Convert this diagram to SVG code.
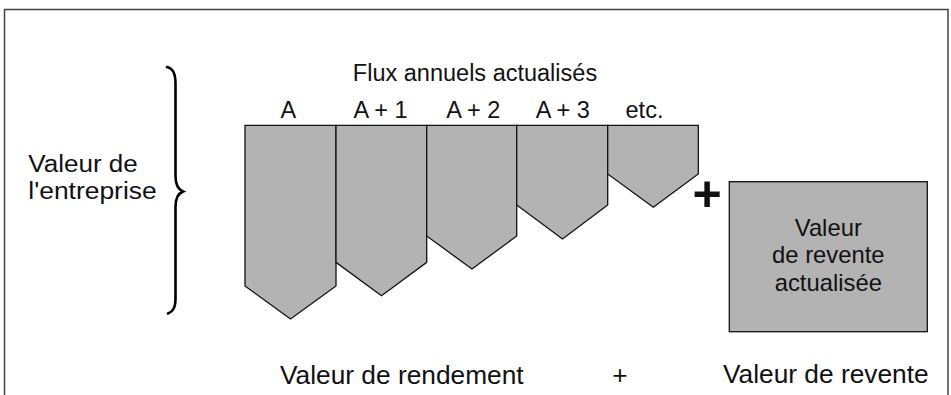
<svg xmlns="http://www.w3.org/2000/svg" width="951" height="395" viewBox="0 0 951 395">
<style>
text { font-family: "Liberation Sans", Arial, Helvetica, sans-serif; fill: #111; }
.lbl { font-size: 23.5px; text-anchor: middle; }
.side { font-size: 23px; }
.bot { font-size: 26.3px; }
.box { font-size: 23.8px; text-anchor: middle; }
.col { fill: #b3b3b3; stroke: #111; stroke-width: 1.3; stroke-linejoin: miter; }
.frame { fill: none; stroke: #444; stroke-width: 1.5; }
.brace { fill: none; stroke: #000; stroke-width: 2.6; stroke-linecap: round; }
</style>
<rect x="0" y="0" width="951" height="395" fill="#fff"/>
<path class="frame" d="M4.5,395 V9.5 H948 V395"/>

<g id="title">
<text class="lbl" x="475" y="81">Flux annuels actualisés</text>
</g>

<g id="left-label">
<text class="side" x="28.3" y="172.3" textLength="109.5" lengthAdjust="spacingAndGlyphs">Valeur de</text>
<text class="side" x="28.3" y="198.8" textLength="128.4" lengthAdjust="spacingAndGlyphs">l'entreprise</text>
</g>

<g id="brace">
<path class="brace" d="M167,67 C172.5,68.5 175.5,72 175.5,84 L175.5,176 C175.5,185 178,189.5 183,191.5 C178,193.5 175.5,198 175.5,207 L175.5,298 C175.5,308 173,311.5 168,313.5"/>
</g>

<g id="col-A">
<polygon class="col" points="245,125.3 336,125.3 336,286 290.5,319 245,286"/>
<text class="lbl" x="288.3" y="117.8">A</text>
</g>
<g id="col-A1">
<polygon class="col" points="336,125.3 426.7,125.3 426.7,262.3 381.5,295.7 336,262.3"/>
<text class="lbl" x="380.5" y="118.3">A + 1</text>
</g>
<g id="col-A2">
<polygon class="col" points="426.7,125.3 516.7,125.3 516.7,236 472,269 426.7,236"/>
<text class="lbl" x="473.3" y="118.3">A + 2</text>
</g>
<g id="col-A3">
<polygon class="col" points="516.7,125.3 607.7,125.3 607.7,205 562.5,239 516.7,205"/>
<text class="lbl" x="562.8" y="118.3">A + 3</text>
</g>
<g id="col-etc">
<polygon class="col" points="607.7,125.3 698.3,125.3 698.3,174 653.3,207.3 607.7,174"/>
<text class="lbl" x="644.5" y="118.3">etc.</text>
</g>

<g id="plus-sign">
<text x="707" y="211" style="font-size:50px;font-weight:bold;text-anchor:middle">+</text>
</g>

<g id="resale-box">
<rect class="col" x="729.3" y="181.7" width="198" height="150"/>
<text class="box" x="828.3" y="236">Valeur</text>
<text class="box" x="828.3" y="263.3">de revente</text>
<text class="box" x="828.3" y="290.7">actualisée</text>
</g>

<g id="connectors"></g>

<g id="bottom-labels">
<text class="bot" x="280" y="384.3">Valeur de rendement</text>
<text class="bot" x="620" y="384" text-anchor="middle">+</text>
<text class="bot" x="723" y="383.3">Valeur de revente</text>
</g>
</svg>
